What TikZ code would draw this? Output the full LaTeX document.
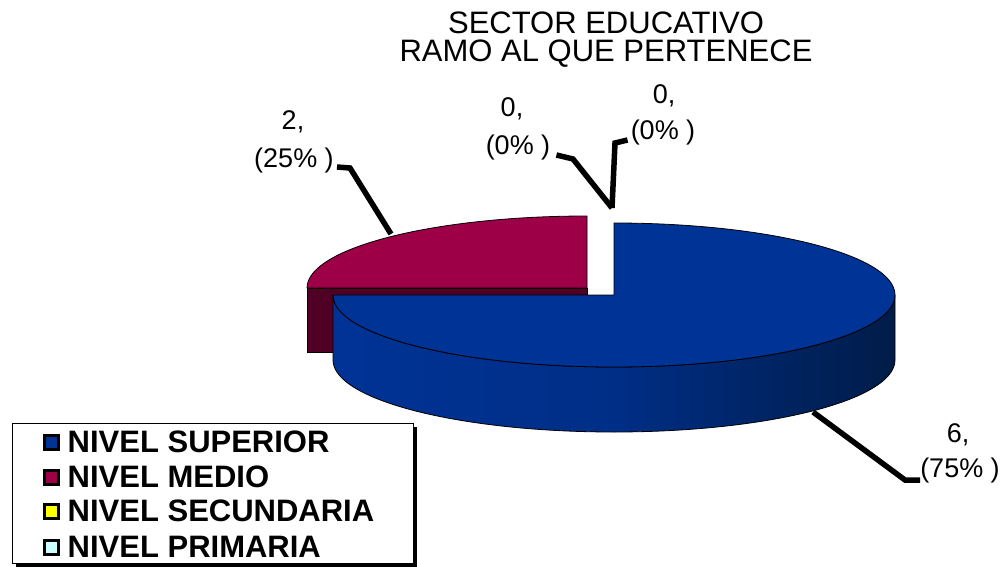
\documentclass[tikz,border=0pt]{standalone}
\usepackage{fontspec}
\setmainfont{Liberation Sans}
\usetikzlibrary{positioning}
\definecolor{supRGB}{RGB}{0,51,150}
\definecolor{supDark}{RGB}{0,28,72}
\definecolor{medRGB}{RGB}{158,0,72}
\definecolor{medDark}{RGB}{80,0,36}
\definecolor{secRGB}{RGB}{255,255,0}
\definecolor{priRGB}{RGB}{204,255,255}
\colorlet{supC}{supRGB}
\colorlet{medC}{medRGB}

\tikzset{
  slice/.style={draw=black, line width=0.8pt},
  leader/.style={draw=black, line width=5.5pt, line join=miter},
  pielabel/.style={inner sep=0pt, font=\fontsize{27}{27}\selectfont},
  legkey/.style={draw=black, line width=3pt, shape=rectangle, minimum size=14pt, inner sep=0pt},
  legtext/.style={inner sep=0pt, anchor=west, font=\fontsize{31}{31}\selectfont\bfseries}
}

\begin{document}
\begin{tikzpicture}[x=1pt,y=-1pt]
\useasboundingbox (0,0) rectangle (1006,567);

% title
\node[align=center, font=\fontsize{31}{28}\selectfont] (titulo) at (606,40)
{SECTOR EDUCATIVO\\RAMO AL QUE PERTENECE};

% pie: nivel medio (pulled out)
\filldraw[slice, fill=medDark] (307,288) rectangle (587,352);
\filldraw[slice, fill=medC] (587,288) -- (307,288)
  arc[start angle=180, end angle=270, x radius=280, y radius=72] -- cycle;

% pie: nivel superior
\shade[left color=supC, right color=supDark, middle color=supC!80!supDark]
  (895,295) arc[start angle=0, end angle=180, x radius=281, y radius=72]
  -- (333,360) arc[start angle=180, end angle=0, x radius=281, y radius=72] -- cycle;
\draw[slice] (895,295) arc[start angle=0, end angle=180, x radius=281, y radius=72]
  -- (333,360) arc[start angle=180, end angle=0, x radius=281, y radius=72] -- cycle;
\filldraw[slice, fill=supC] (614,295) -- (614,223)
  arc[start angle=-90, end angle=180, x radius=281, y radius=72] -- cycle;

% labels
\node[pielabel] (valMedio) at (293,122) {2,};
\node[pielabel] (pctMedio) at (294,161) {(25\% )};
\node[pielabel] (valSec) at (512,109) {0,};
\node[pielabel] (pctSec) at (518,148) {(0\% )};
\node[pielabel] (valPri) at (664,96) {0,};
\node[pielabel] (pctPri) at (663,133) {(0\% )};
\node[pielabel] (valSup) at (958,435) {6,};
\node[pielabel] (pctSup) at (960,471) {(75\% )};

\coordinate (kinkMedio) at (350,168);
\coordinate (tipMedio) at (391,234);
\coordinate (kinkSec) at (573,159);
\coordinate (kinkPri) at (615,143);
\coordinate (tipZero) at (612,208);
\coordinate (tipSup) at (813,412);
\coordinate (kinkSup) at (905,480);

\draw[leader] (pctMedio.east) ++(3,6) -- (kinkMedio) -- (tipMedio);
\draw[leader] (pctSec.east) ++(6,7) -- (kinkSec) -- (tipZero);
\draw[leader] (pctPri.west) ++(-3,7) -- (kinkPri) -- (tipZero);
\draw[leader] (tipSup) -- (kinkSup) -- (pctSup.west |- kinkSup);

% legend
\fill[black] (413,427) rectangle (417,567);
\fill[black] (16,563) rectangle (417,567);
\draw[fill=white, line width=1pt] (12,423) rectangle (413,563);

\node[legkey, fill=supC] (keySup) at (51,442) {};
\node[legtext, right=8pt of keySup] (txtSup) {NIVEL SUPERIOR};
\node[legkey, fill=medC] (keyMed) at (51,477) {};
\node[legtext, right=8pt of keyMed] (txtMed) {NIVEL MEDIO};
\node[legkey, fill=secRGB] (keySec) at (51,511) {};
\node[legtext, right=8pt of keySec] (txtSec) {NIVEL SECUNDARIA};
\node[legkey, fill=priRGB] (keyPri) at (51,547) {};
\node[legtext, right=8pt of keyPri] (txtPri) {NIVEL PRIMARIA};

\end{tikzpicture}
\end{document}
